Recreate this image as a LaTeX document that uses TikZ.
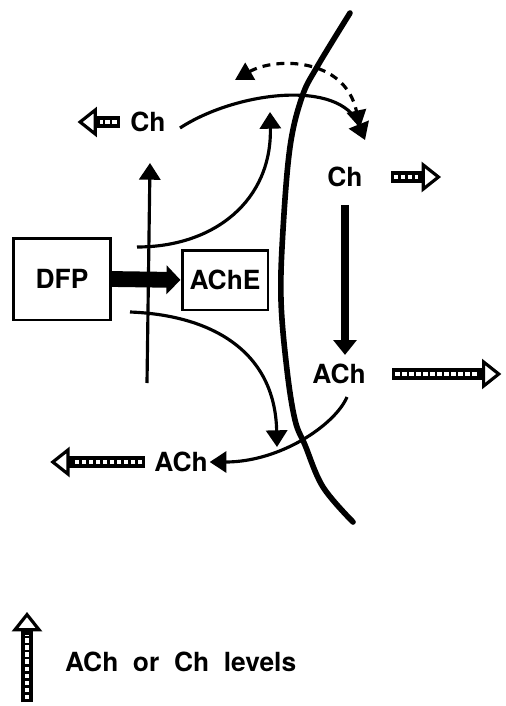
\documentclass[tikz,border=0pt]{standalone}
\usepackage{fontspec}
\setmainfont{TeX Gyre Heros}
\usetikzlibrary{arrows.meta}

\begin{document}
\begin{tikzpicture}[
  x=0.02cm, y=-0.02cm,
  lbl/.style={font=\bfseries\fontsize{15}{17}\selectfont, inner sep=1pt},
  box/.style={draw, line width=1.7pt, lbl},
  flow/.style={line width=1.8pt, -{Triangle[length=9.5pt, width=12pt]}},
  bigflow/.style={line width=5pt, -{Triangle[length=8.5pt, width=13pt]}},
  inhibit/.style={line width=9pt, -{Triangle[length=8pt, width=16pt]}},
  recycle/.style={line width=1.8pt, dash pattern=on 4.5pt off 3.5pt, {Triangle[length=10pt, width=11pt]}-{Triangle[length=10pt, width=11pt]}},
  membrane/.style={line width=3.2pt, line cap=round},
  level/.style={line width=6.5pt, -{Triangle[open, length=11pt, width=17pt, line width=1.8pt]},
    postaction={draw=white, -, line width=2.3pt, dash pattern=on 2.6pt off 1.4pt, shorten <=1.6pt, shorten >=13pt}}
]
\useasboundingbox (0,0) rectangle (505,706);

% membrane
\draw[membrane] plot[smooth, tension=0.6] coordinates {(350,13) (317,67) (302,97) (290,147) (283,230) (281,300) (287,370) (295,420) (305,445) (323,487) (353,522)};

% boxes and labels
\node[box, minimum width=1.94cm, minimum height=1.64cm] (dfp) at (62,279) {DFP};
\node[box, minimum width=1.72cm, minimum height=1.2cm] (ache) at (225,280) {AChE};
\node[lbl] (chout) at (148,122) {Ch};
\node[lbl] (chin) at (345,177) {Ch};
\node[lbl] (achin) at (339,374) {ACh};
\node[lbl] (achout) at (181,462) {ACh};
\node[lbl, anchor=west] (key) at (63,662) {ACh\ \ or\ \ Ch\ \ levels};

\coordinate (vbot) at (147,383);
\coordinate (vtop) at (150,163);
\coordinate (upstart) at (137,247);
\coordinate (uptip) at (270,112);
\coordinate (lowstart) at (130,312);
\coordinate (lowtip) at (277,447);
\coordinate (chleave) at (180,128);
\coordinate (chreach) at (365,140);
\coordinate (dashl) at (235,80);
\coordinate (dashr) at (360,128);
\coordinate (achleave) at (347,397);
\coordinate (keytail) at (27,702);

% synthesis / release
\draw[flow] (vbot) -- (vtop);
\draw[inhibit] (dfp.east) -- (ache.west);
\draw[flow] (upstart) .. controls (215,247) and (272,200) .. (uptip);
\draw[flow] (lowstart) .. controls (210,315) and (275,350) .. (lowtip);
\draw[flow] (chleave) .. controls (235,92) and (340,78) .. (chreach);
\draw[recycle] (dashl) .. controls (275,57) and (345,57) .. (dashr);
\draw[bigflow, shorten <=9pt, shorten >=4pt] (chin.south) -- (chin.south |- achin.north);
\draw[flow] (achleave) .. controls (335,425) and (280,462) .. (achout.east);

% levels
\draw[level] ([xshift=-5pt]chout.west) -- ++(-42,0);
\draw[level] ([xshift=15pt]chin.east) -- ++(50,0);
\draw[level] ([xshift=14pt]achin.east) -- ++(109,0);
\draw[level] ([xshift=-4pt]achout.west) -- ++(-95,0);
\draw[level] (keytail) -- ++(0,-90);

\end{tikzpicture}
\end{document}
